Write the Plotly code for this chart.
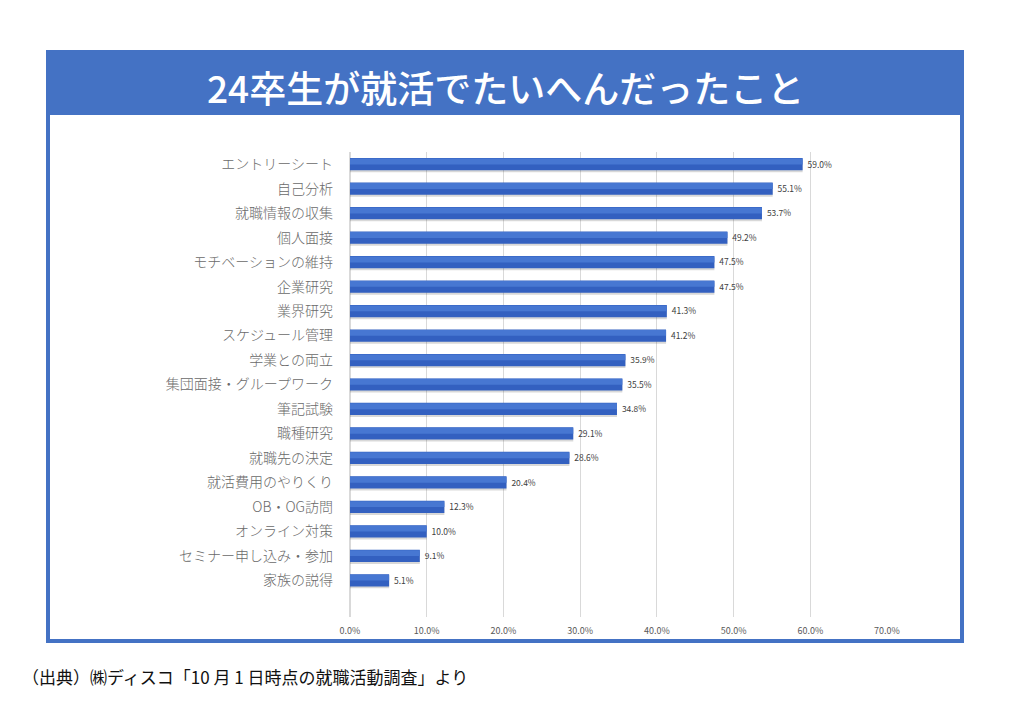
import plotly.graph_objects as go

# 24卒生が就活でたいへんだったこと (上から順)
categories = [
    'エントリーシート', '自己分析', '就職情報の収集', '個人面接', 'モチベーションの維持',
    '企業研究', '業界研究', 'スケジュール管理', '学業との両立', '集団面接・グループワーク',
    '筆記試験', '職種研究', '就職先の決定', '就活費用のやりくり', 'OB・OG訪問',
    'オンライン対策', 'セミナー申し込み・参加', '家族の説得',
]
values = [59.0, 55.1, 53.7, 49.2, 47.5, 47.5, 41.3, 41.2, 35.9, 35.5,
          34.8, 29.1, 28.6, 20.4, 12.3, 10.0, 9.1, 5.1]
x_ticks = [0, 10, 20, 30, 40, 50, 60, 70]

W, H = 1024, 724
blue = '#4472C4'
font_jp = 'Noto Sans CJK JP, Noto Sans, sans-serif'
pos = list(range(len(categories)))


def px(x):
    return x / W


def py(y):
    return 1 - y / H


fig = go.Figure()
# soft shadow under each bar
fig.add_trace(go.Bar(
    y=pos, x=values, orientation='h', width=0.5, offset=-0.17,
    marker=dict(color='rgba(60,60,60,0.2)', line=dict(width=0)),
    hoverinfo='skip',
))
# main bar
fig.add_trace(go.Bar(
    y=pos, x=values, orientation='h', width=0.5, offset=-0.25,
    marker=dict(color='#3360C0', line=dict(width=0)),
    text=[f' {v:.1f}%' for v in values], textposition='outside',
    textfont=dict(size=9, color='#404040', family=font_jp),
    cliponaxis=False,
    customdata=categories,
    hovertemplate='%{customdata}: %{x:.1f}%<extra></extra>',
))
# lighter upper half for the bevel look
fig.add_trace(go.Bar(
    y=pos, x=values, orientation='h', width=0.24, offset=-0.23,
    marker=dict(color='#4777D2', line=dict(width=0)),
    hoverinfo='skip',
))

# outer frame and title band
fig.add_shape(type='rect', xref='paper', yref='paper',
              x0=px(48), x1=px(962), y0=py(641), y1=py(52),
              line=dict(color=blue, width=4), fillcolor='rgba(0,0,0,0)', layer='below')
fig.add_shape(type='rect', xref='paper', yref='paper',
              x0=px(46), x1=px(964), y0=py(115), y1=py(50),
              line=dict(width=0), fillcolor=blue, layer='below')

fig.add_annotation(text='24卒生が就活でたいへんだったこと', xref='paper', yref='paper',
                   x=px(505), y=py(87), xanchor='center', yanchor='middle', showarrow=False,
                   font=dict(size=37, color='white', family=font_jp, weight=500))
fig.add_annotation(text='（出典）㈱ディスコ「10 月 1 日時点の就職活動調査」より',
                   xref='paper', yref='paper', x=px(20), y=py(676),
                   xanchor='left', yanchor='middle', showarrow=False,
                   font=dict(size=17, color='#111111', family=font_jp))

fig.update_layout(
    width=W, height=H,
    margin=dict(l=0, r=0, t=0, b=0, autoexpand=False),
    paper_bgcolor='white', plot_bgcolor='white',
    showlegend=False,
    barmode='overlay',
    xaxis=dict(domain=[px(350), px(887)], range=[0, 70],
               tickvals=x_ticks, ticktext=[f'{t:.1f}%' for t in x_ticks],
               showgrid=True, gridcolor='#D9D9D9', gridwidth=1,
               zeroline=True, zerolinecolor='#D9D9D9', showline=False,
               tickfont=dict(size=9, color='#595959', family=font_jp),
               ticklabelstandoff=7, fixedrange=True, automargin=False),
    yaxis=dict(domain=[py(617), py(152)], range=[18.5, -0.5],
               tickvals=pos, ticktext=categories,
               showgrid=False, zeroline=False, showline=False,
               tickfont=dict(size=14, color='#6A6A6A', family=font_jp, weight=300),
               ticklabelstandoff=16, fixedrange=True, automargin=False),
)

fig.write_html('out.html', config={'displayModeBar': False},
               post_script="document.body.style.margin='0';")
